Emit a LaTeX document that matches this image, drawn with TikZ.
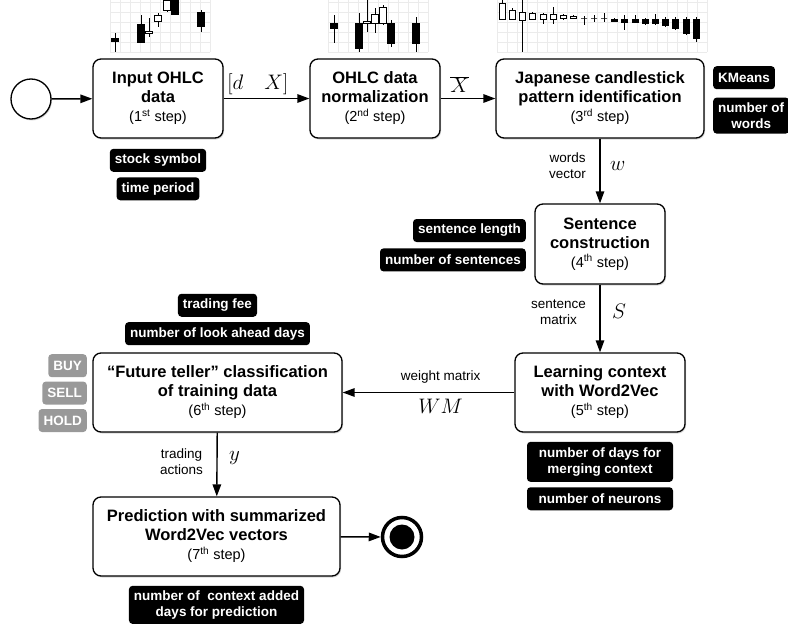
\documentclass[tikz,border=0pt]{standalone}
\usepackage{fix-cm}
\usepackage{fontspec}
\setmainfont{Liberation Sans}
\usetikzlibrary{positioning,arrows.meta,shadows}

\newcommand\stagefont{\fontsize{16.5}{19}\selectfont\bfseries}
\newcommand\stepnofont{\fontsize{14.5}{17}\selectfont\mdseries}
\newcommand\tagfont{\fontsize{13.5}{16}\selectfont\bfseries}
\newcommand\notefont{\fontsize{13.5}{16}\selectfont}
\newcommand\varfont{\fontsize{21}{24}\selectfont}

\tikzset{
  stepbox/.style={draw, line width=1.3pt, rounded corners=8pt, fill=white,
    align=center, minimum height=79pt, inner sep=2pt, font=\stagefont,
    drop shadow={shadow xshift=1pt, shadow yshift=-1.5pt, opacity=0.3}},
  tag/.style={fill=black, text=white, rounded corners=3.5pt, font=\tagfont,
    inner xsep=5pt, inner ysep=3pt, minimum height=23pt, align=center},
  greytag/.style={tag, fill=black!40},
  flow/.style={line width=1.4pt, -{Triangle[length=12pt,width=8.5pt]}},
  note/.style={font=\notefont, align=center},
  var/.style={font=\varfont},
  chartgrid/.style={draw=black!8, line width=0.6pt},
  candle/.style={draw=black, line width=0.9pt},
  startstate/.style={circle, draw, line width=1.3pt, fill=white, inner sep=0pt,
    minimum size=40pt, drop shadow={shadow xshift=1pt, shadow yshift=-1.5pt, opacity=0.3}},
  endstate/.style={circle, draw, line width=3.5pt, fill=white, inner sep=0pt,
    minimum size=39pt},
  enddot/.style={circle, fill=black, inner sep=0pt, minimum size=25pt}
}

\begin{document}
\begin{tikzpicture}[x=1pt, y=-1pt]
  \useasboundingbox (0,0) rectangle (788,632);

  % candlestick snapshots
  \foreach \xa/\n in {110/10, 328/10, 497/21} {
    \foreach \i in {0,...,\n}
      \draw[chartgrid] ({\xa+10*\i},0) -- ({\xa+10*\i},52);
    \foreach \y in {2,12,...,52}
      \draw[chartgrid] (\xa,\y) -- ({\xa+10*\n},\y);
  }
  \foreach \x/\hi/\lo/\op/\cl/\c in {
      115/33/52/38/41/black, 141/15/43/24/42/black, 149/18/37/31/33/white,
      158/13/27/15/21/white, 167/-2/12/0/10/white, 175/-2/15/-2/14/black,
      201/10/32/12/26/black,
      334/15/43/23/28/black, 359/13/52/23/48/black, 367/-2/32/21/23/white,
      375/8/33/14/23/white, 383/5/25/7/23/white, 391/20/47/23/43/black,
      416/17/52/23/43/black} {
    \draw[candle] (\x,\hi) -- (\x,\lo);
    \filldraw[candle, fill=\c] ({\x-3.5},\op) rectangle ({\x+3.5},\cl);
  }
  \foreach \x/\hi/\lo/\op/\cl/\c in {
      502/-2/20/3/19/white, 512/8/20/10/19/white, 522/-2/52/12/20/white,
      532/12/20/13/19/white, 543/13/24/14/19/white, 553/7/24/14/19/white,
      563/14/20/15/18/white, 573/15/19/16/18/white, 584/16/25/18/18/white,
      594/15/22/18/18/white, 604/13/22/18/18/white, 614/18/22/19/21/black,
      624/15/30/19/22/black, 635/15/23/19/22/black, 645/18/25/19/23/black,
      655/14/25/19/23/black, 665/17/27/19/25/black, 675/17/30/19/28/black,
      686/17/35/19/33/black, 696/17/42/19/38/black} {
    \draw[candle] (\x,\hi) -- (\x,\lo);
    \filldraw[candle, fill=\c] ({\x-3},\op) rectangle ({\x+3},\cl);
  }

  % steps
  \node[startstate] (start) at (31,99) {};
  \node[stepbox, minimum width=130pt] (input) at (158,98.5)
    {Input OHLC\\data\\{\stepnofont (1\textsuperscript{st} step)}};
  \node[stepbox, minimum width=130pt] (norm) at (375,98.5)
    {OHLC data\\normalization\\{\stepnofont (2\textsuperscript{nd} step)}};
  \node[stepbox, minimum width=208pt] (pattern) at (600,98.5)
    {Japanese candlestick\\pattern identification\\{\stepnofont (3\textsuperscript{rd} step)}};
  \node[stepbox, minimum width=130pt, minimum height=80pt] (sentence) at (600,244)
    {Sentence\\construction\\{\stepnofont (4\textsuperscript{th} step)}};
  \node[stepbox, minimum width=170pt] (context) at (600,392.5)
    {Learning context\\with Word2Vec\\{\stepnofont (5\textsuperscript{th} step)}};
  \node[stepbox, minimum width=249pt] (teller) at (217.5,392.5)
    {``Future teller'' classification\\of training data\\{\stepnofont (6\textsuperscript{th} step)}};
  \node[stepbox, minimum width=247pt] (predict) at (216.5,536.5)
    {Prediction with summarized\\Word2Vec vectors\\{\stepnofont (7\textsuperscript{th} step)}};
  \node[endstate] (finish) at (402,537) {};
  \node[enddot] (finishdot) at (finish.center) {};

  % parameters
  \node[tag, below=10pt of input] (symbol) {stock symbol};
  \node[tag, below=5pt of symbol] (period) {time period};
  \node[tag, anchor=north west] (kmeans) at (713,66) {KMeans};
  \node[tag, below=8pt of kmeans.south west, anchor=north west, minimum height=36pt] (words) {number of\\words};
  \node[tag, anchor=east] (senlen) at (526,230.5) {sentence length};
  \node[tag, below=6pt of senlen.south east, anchor=north east] (sencount) {number of sentences};
  \node[tag, minimum width=146pt, minimum height=40pt, below=9pt of context] (merge) {number of days for\\merging context};
  \node[tag, minimum width=146pt, below=5pt of merge] (neurons) {number of neurons};
  \node[tag, above=7pt of teller] (lookahead) {number of look ahead days};
  \node[tag, above=5pt of lookahead] (fee) {trading fee};
  \node[greytag, anchor=north east] (buy) at (87,354) {BUY};
  \node[greytag, below=4pt of buy.south east, anchor=north east] (sell) {SELL};
  \node[greytag, below=4pt of sell.south east, anchor=north east] (hold) {HOLD};
  \node[tag, minimum height=38pt, below=9pt of predict] (added) {number of\ \ context added\\days for prediction};

  % flow
  \draw[flow] (start) -- (input);
  \draw[flow] (input) -- node[var, above=0pt, pos=0.4] (dx) {$[d\quad X]$} (norm);
  \draw[flow] (norm) -- node[var, above=2pt, pos=0.35] (xbar) {$\overline{X}$} (pattern);
  \draw[flow] (pattern) -- node[var, pos=0.42, right=6pt] (w) {$w$}
    node[note, pos=0.42, left=10pt] (wlabel) {words\\vector} (sentence);
  \draw[flow] (sentence) -- node[var, pos=0.4, right=8pt] (s) {$S$}
    node[note, pos=0.4, left=10pt] (slabel) {sentence\\matrix} (context);
  \draw[flow] (context) -- node[note, pos=0.43, above=5pt] (wmlabel) {weight matrix}
    node[var, pos=0.43, below=3pt] (wm) {$WM$} (teller);
  \draw[flow] (teller) -- node[var, pos=0.4, right=8pt] (y) {$y$}
    node[note, pos=0.45, left=10pt] (ylabel) {trading\\actions} (predict);
  \draw[flow] (predict) -- (finish);
\end{tikzpicture}
\end{document}
